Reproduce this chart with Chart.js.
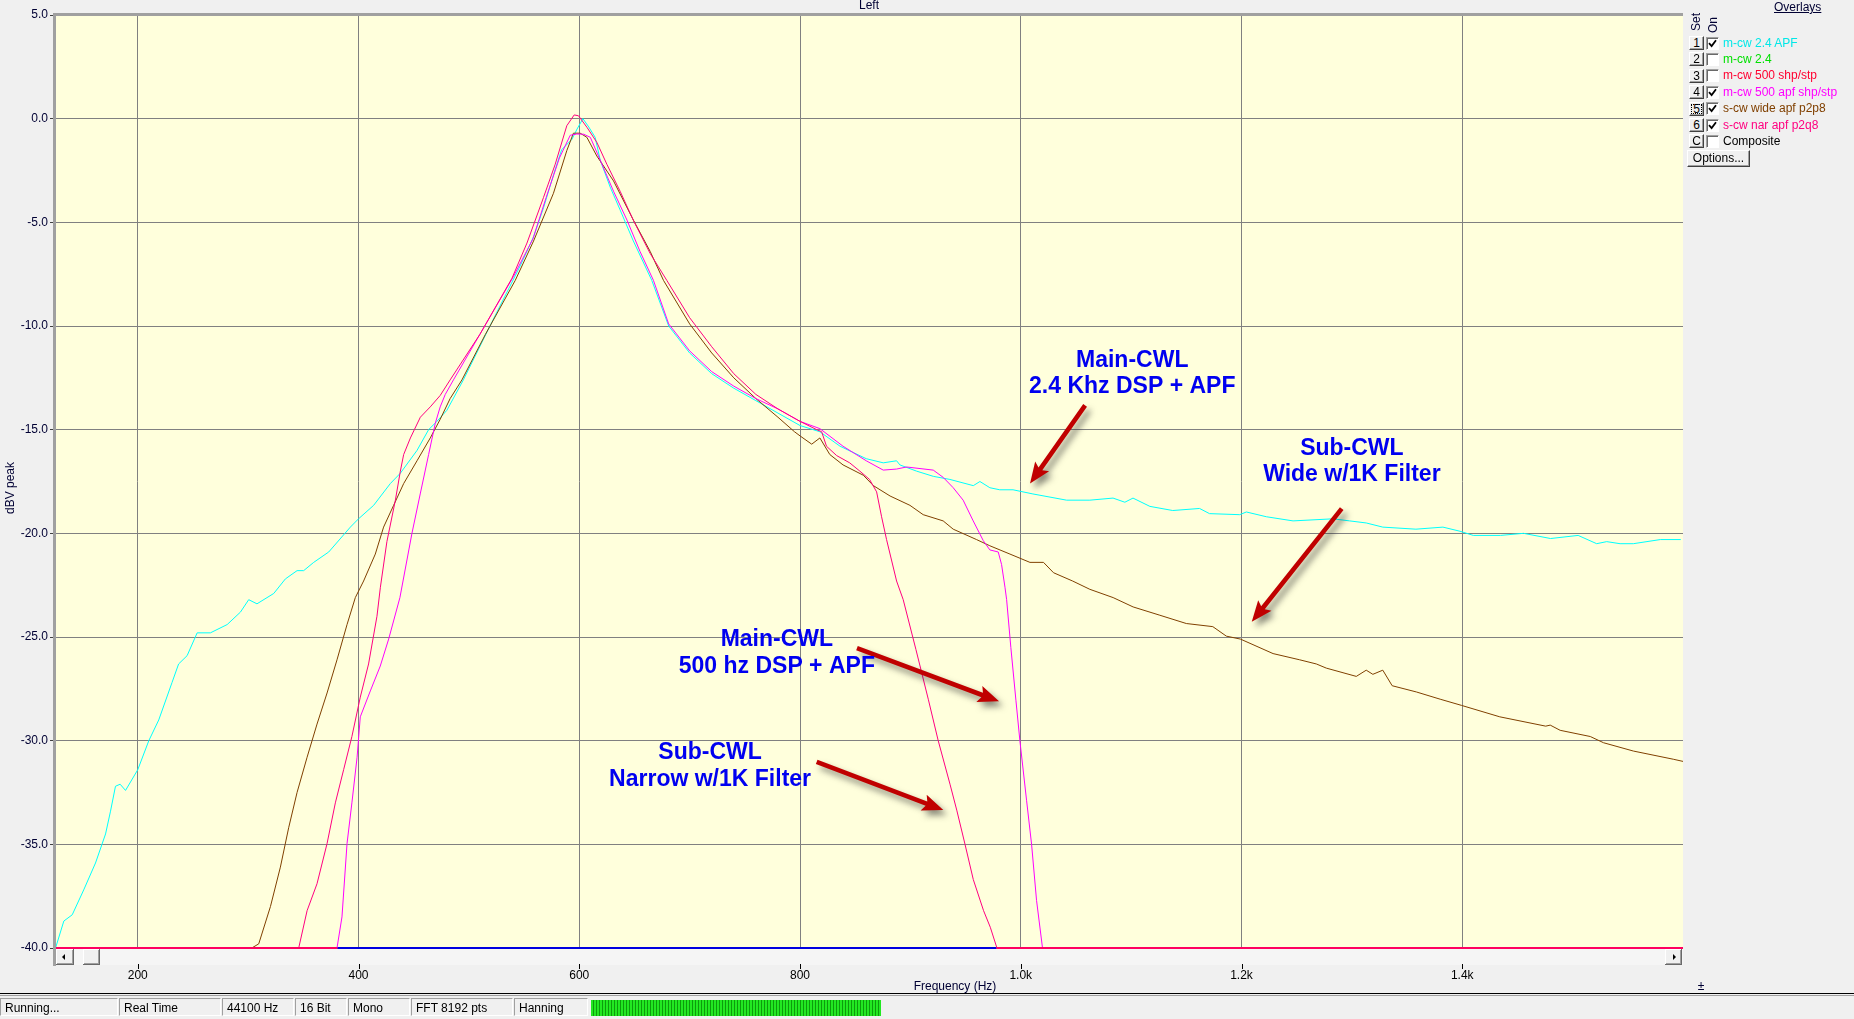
<!DOCTYPE html>
<html><head><meta charset="utf-8">
<script src="https://cdn.jsdelivr.net/npm/chart.js@4.4.1/dist/chart.umd.min.js"></script>
<style>
html,body{margin:0;padding:0;background:#f0f0f0;width:1854px;height:1019px;overflow:hidden;font-family:"Liberation Sans",Arial,sans-serif;}
#c{position:absolute;left:0;top:0;}
.abs{position:absolute;font-size:12px;line-height:14px;white-space:nowrap;}
.btn{position:absolute;width:13px;height:12px;background:#f0f0f0;border:1px solid;border-color:#fff #404040 #404040 #fff;box-shadow:inset -1px -1px 0 #a0a0a0;font-size:12px;line-height:12px;text-align:center;color:#000;}
.chk{position:absolute;width:11px;height:11px;background:#fff;border:1px solid;border-color:#a0a0a0 #fff #fff #a0a0a0;box-shadow:inset 1px 1px 0 #696969;}
.chk svg{position:absolute;left:1px;top:1px;}
.lbl{position:absolute;font-size:12px;line-height:14px;white-space:nowrap;}
.cell{position:absolute;top:998px;height:18px;border:1px solid;border-color:#a0a0a0 #fff #fff #a0a0a0;font-size:12px;line-height:18px;padding-left:4px;box-sizing:border-box;color:#000;}
</style></head><body>
<canvas id="c" width="1854" height="1019"></canvas>

<div class="abs" style="left:1774px;top:0px;text-decoration:underline;color:#000033;">Overlays</div>
<div class="abs" style="left:1689px;top:31px;transform:rotate(-90deg);transform-origin:0 0;color:#000033;">Set</div>
<div class="abs" style="left:1706px;top:33px;transform:rotate(-90deg);transform-origin:0 0;color:#000033;">On</div>
<div id="rows"></div>
<div class="btn" style="left:1687px;top:150px;width:61px;height:15px;line-height:15px;">Options...</div>

<div style="position:absolute;left:0;top:993px;width:1854px;height:1px;background:#000;"></div>
<div style="position:absolute;left:0;top:995px;width:1854px;height:1px;background:#a0a0a0;"></div>
<div class="cell" style="left:0px;width:118px;">Running...</div>
<div class="cell" style="left:119px;width:102px;">Real Time</div>
<div class="cell" style="left:222px;width:72px;">44100 Hz</div>
<div class="cell" style="left:295px;width:52px;">16 Bit</div>
<div class="cell" style="left:348px;width:62px;">Mono</div>
<div class="cell" style="left:411px;width:102px;">FFT 8192 pts</div>
<div class="cell" style="left:514px;width:74px;">Hanning</div>
<div style="position:absolute;left:591px;top:1000px;width:290px;height:16px;background:repeating-linear-gradient(90deg,#22e822 0px,#22e822 2px,#0c9c0c 2px,#0c9c0c 3px);"></div>

<script>
// ---------- DATA ----------
const freqTicks = [200, 400, 600, 800, 1000, 1200, 1400];
const freqTickLabels = ['200', '400', '600', '800', '1.0k', '1.2k', '1.4k'];
const dbTicks = [5, 0, -5, -10, -15, -20, -25, -30, -35, -40];

// Set 1: m-cw 2.4 APF (cyan)
const apf24Freq = [125.5,133,140.6,151,161.7,170.8,175.3,179.8,184,188.9,200,210,219,231,237,244.7,253.8,265.8,281,293,300.5,308,323.2,333.7,344.3,350.3,359.4,373,392.6,400,413.7,428.8,437.9,453,463.5,471,480,495,520,546.5,558.6,567.6,576.7,584,593.3,598,603.3,608.6,614.4,619,628,637,649,665.7,681,700,720,740,760,780,800,818,836.3,860,875.4,887.5,890.5,905.6,920.7,935.8,957,963,972,981,993,1011,1041.5,1062.6,1083.6,1094.3,1101.7,1117,1137.7,1162,1171,1198.4,1204.4,1222.5,1246.7,1282.9,1298,1313,1328,1358,1382.5,1398,1410,1434.6,1455.5,1480,1505,1521.8,1530.9,1543,1555,1579.5,1598];
const apf24Db = [-40,-38.7,-38.4,-37.2,-35.9,-34.5,-33.4,-32.2,-32.1,-32.4,-31.4,-30.0,-29.0,-27.2,-26.3,-25.9,-24.8,-24.8,-24.4,-23.8,-23.2,-23.4,-22.9,-22.2,-21.8,-21.8,-21.4,-20.9,-19.7,-19.3,-18.65,-17.6,-17.1,-16.0,-15.0,-14.6,-14.07,-12.6,-9.9,-7.1,-5.7,-4.3,-2.7,-1.5,-1.0,-0.5,0.0,-0.4,-0.9,-2.0,-3.3,-4.4,-5.9,-7.8,-10.0,-11.3,-12.3,-13.0,-13.6,-14.2,-14.8,-15.1,-15.8,-16.4,-16.6,-16.5,-16.7,-17.0,-17.25,-17.4,-17.7,-17.5,-17.8,-17.9,-17.9,-18.1,-18.4,-18.4,-18.3,-18.5,-18.3,-18.7,-18.9,-18.8,-19.05,-19.1,-18.97,-19.2,-19.4,-19.3,-19.4,-19.5,-19.7,-19.8,-19.7,-19.9,-20.1,-20.1,-20.0,-20.25,-20.1,-20.5,-20.4,-20.5,-20.5,-20.3,-20.3];

// Set 4: m-cw 500 apf shp/stp (magenta)
const apf500Freq = [380.5,385,389.6,394,398.7,401.6,410.7,419.7,427.3,437.5,448.4,455.9,463.5,469.5,474,478.6,486,510,540.5,558,570,582,591.8,597.8,604,610,619,631,643.3,655,667.2,681,700,720,740,760,780,800,818,839,860,875.4,887.5,896.5,920.7,929.7,938.8,947.8,956.9,966,972,979.6,982.6,985.7,987.2,991,995.6,999.2,1005.3,1009.8,1014.3,1019.7];
const apf500Db = [-40,-38.5,-34.96,-33.0,-30.8,-28.85,-27.6,-26.4,-25.1,-23.1,-20.0,-18.1,-16.2,-14.7,-13.9,-13.3,-12.6,-10.4,-7.6,-5.8,-3.8,-1.9,-0.8,-0.74,-0.75,-0.9,-2.0,-3.5,-4.9,-6.4,-7.8,-9.9,-11.2,-12.2,-12.9,-13.5,-14.0,-14.6,-14.95,-15.8,-16.5,-16.95,-16.9,-16.8,-16.95,-17.3,-17.8,-18.4,-19.4,-20.35,-20.8,-20.9,-21.5,-22.6,-23.2,-25.5,-28.05,-30.0,-32.9,-35.0,-37.7,-40];

// Set 5: s-cw wide apf p2p8 (brown)
const wideFreq = [303.3,309.6,320.2,329.2,336.7,344.3,353.4,362.4,371.5,380.5,389.6,397.1,404.6,415.2,422.7,431.8,440.9,453,465,474,483,493.7,515,542,558.6,576.6,588.7,594.7,600.8,606.9,615.9,631,649.1,664.2,676.3,700,720,740,760,780,795,800,810.6,818,827,839,857.4,866.5,881.6,899.6,911.6,929.7,938.8,959.9,972,990.2,1008.3,1020.6,1029.7,1047,1062.6,1083.7,1101.8,1126,1150,1174,1186.3,1199,1228.6,1252.7,1267.8,1276.8,1304,1313,1319,1328,1336.5,1358.4,1380,1399.4,1434,1475.6,1479.7,1488.7,1516,1528,1555,1591.6,1600];
const wideDb = [-40,-39.8,-38.0,-36.1,-34.2,-32.5,-30.8,-29.2,-27.7,-26.1,-24.4,-23.1,-22.3,-21.0,-19.7,-18.65,-17.6,-16.5,-15.4,-14.5,-13.5,-12.6,-10.4,-7.8,-5.9,-3.6,-1.54,-0.7,-0.7,-0.9,-1.8,-3.0,-4.9,-6.4,-7.8,-9.9,-11.3,-12.5,-13.5,-14.4,-15.1,-15.3,-15.7,-15.4,-16.2,-16.7,-17.2,-17.7,-18.2,-18.65,-19.1,-19.4,-19.8,-20.3,-20.6,-21.0,-21.4,-21.4,-21.9,-22.3,-22.7,-23.1,-23.55,-23.95,-24.35,-24.5,-24.96,-25.1,-25.8,-26.1,-26.3,-26.5,-26.9,-26.6,-26.8,-26.6,-27.35,-27.65,-28.0,-28.3,-28.85,-29.3,-29.25,-29.5,-29.8,-30.1,-30.5,-30.9,-31.0];

// Set 6: s-cw nar apf p2q8 (pink-red)
const narFreq = [345.8,353.4,362.4,371.5,379,386.5,394,401.6,409.1,416.7,419.8,425.7,433.4,437.9,440.9,447,456,465,474,483,510,539,552.6,567.6,578.2,588.7,595.4,599.3,607,615.9,625,637,649,664.2,679.3,700,720,740,760,780,800,815.1,819.6,824,833.2,845,854.2,863,869.4,873.9,878.4,887.5,893.5,905,916.2,925.2,935.9,942,949.5,957,966.3,972.4,978.4];
const narDb = [-40,-38.2,-36.9,-34.96,-33.0,-31.4,-29.8,-27.9,-26.3,-24.0,-22.6,-20.4,-18.4,-17.0,-16.2,-15.4,-14.4,-13.9,-13.35,-12.6,-10.4,-7.7,-6.0,-3.8,-2.2,-0.34,0.18,0.14,-0.42,-1.14,-2.2,-3.5,-4.9,-6.5,-7.8,-9.6,-11.0,-12.3,-13.3,-14.0,-14.6,-15.0,-15.1,-15.8,-16.25,-16.6,-17.0,-17.4,-18.0,-19.2,-20.3,-22.3,-23.2,-25.6,-28.0,-30.0,-32.1,-33.35,-35.0,-36.7,-38.2,-39.0,-40];

// Floor trace at the bottom of the range
const floorFreq = [125, 381, 978, 1600];
const floorDb = [-40, -40, -40, -40];

// Overlay list
const overlayNames = ['m-cw 2.4 APF', 'm-cw 2.4', 'm-cw 500 shp/stp', 'm-cw 500 apf shp/stp', 's-cw wide apf p2p8', 's-cw nar apf p2q8', 'Composite'];
const overlayOn = [true, false, false, true, true, true, false];
const overlayColors = ['#00e8e8', '#00e000', '#ff0030', '#ff00ff', '#804000', '#ff0080', '#000000'];
const overlaySet = ['1', '2', '3', '4', '5', '6', 'C'];

// Callouts (anchor of first text line, arrow from -> to), in Hz / dBV
const notes = [
  { lines: ['Main-CWL', '2.4 Khz DSP + APF'], x: 1101, y: -11.66, ax1: 1058.3, ay1: -13.83, ax2: 1008.4, ay2: -17.6 },
  { lines: ['Sub-CWL', 'Wide w/1K Filter'], x: 1300, y: -15.9, ax1: 1290.8, ay1: -18.81, ax2: 1209.3, ay2: -24.27 },
  { lines: ['Main-CWL', '500 hz DSP + APF'], x: 779, y: -25.14, ax1: 851.6, ay1: -25.54, ax2: 980.3, ay2: -28.1 },
  { lines: ['Sub-CWL', 'Narrow w/1K Filter'], x: 718.5, y: -30.6, ax1: 815.1, ay1: -31.02, ax2: 929.8, ay2: -33.35 }
];

// ---------- PANEL ----------
const rows = document.getElementById('rows');
overlayNames.forEach((n, i) => {
  const top = 36 + i * 16.4;
  const b = document.createElement('div');
  b.className = 'btn'; b.style.left = '1689px'; b.style.top = top + 'px'; b.textContent = overlaySet[i];
  if (i === 4) b.style.outline = '1px dotted #000', b.style.outlineOffset = '-3px';
  rows.appendChild(b);
  const c = document.createElement('div');
  c.className = 'chk'; c.style.left = '1706px'; c.style.top = (top + 0.5) + 'px';
  if (overlayOn[i]) c.innerHTML = '<svg width="9" height="9"><path d="M1 4.2 L3.6 7 L8 1.2" stroke="#000" stroke-width="1.8" fill="none"/></svg>';
  rows.appendChild(c);
  const t = document.createElement('div');
  t.className = 'lbl'; t.style.left = '1723px'; t.style.top = (top - 0.5) + 'px'; t.style.color = overlayColors[i]; t.textContent = n;
  rows.appendChild(t);
});

// ---------- CHART ----------
const pts = (f, d) => f.map((v, i) => ({ x: v, y: d[i] }));
const FONT = '"Liberation Sans", Arial, sans-serif';

function raised(ctx, x, y, w, h) {
  ctx.fillStyle = '#f0f0f0'; ctx.fillRect(x, y, w, h);
  ctx.fillStyle = '#ffffff'; ctx.fillRect(x, y, w, 1); ctx.fillRect(x, y, 1, h);
  ctx.fillStyle = '#696969'; ctx.fillRect(x, y + h - 1, w, 1); ctx.fillRect(x + w - 1, y, 1, h);
  ctx.fillStyle = '#a0a0a0'; ctx.fillRect(x + 1, y + h - 2, w - 2, 1); ctx.fillRect(x + w - 2, y + 1, 1, h - 2);
}
function arrow(ctx, x1, y1, x2, y2) {
  const ang = Math.atan2(y2 - y1, x2 - x1);
  const len = Math.hypot(x2 - x1, y2 - y1);
  const hl = 21, hw = 8.5, sw = 2.3;
  ctx.save();
  ctx.translate(x2, y2); ctx.rotate(ang);
  ctx.shadowColor = 'rgba(40,40,40,0.55)'; ctx.shadowBlur = 6; ctx.shadowOffsetX = 4; ctx.shadowOffsetY = 5;
  ctx.beginPath();
  ctx.moveTo(0, 0);
  ctx.lineTo(-hl, -hw);
  ctx.lineTo(-hl + 3, -sw);
  ctx.lineTo(-len, -sw);
  ctx.lineTo(-len, sw);
  ctx.lineTo(-hl + 3, sw);
  ctx.lineTo(-hl, hw);
  ctx.closePath();
  ctx.fillStyle = '#c00000';
  ctx.fill();
  ctx.restore();
}

const decor = {
  id: 'decor',
  beforeDraw(chart) {
    const { ctx, chartArea: a } = chart;
    ctx.save();
    ctx.fillStyle = '#ffffdc';
    ctx.fillRect(a.left, a.top, a.right - a.left, a.bottom - a.top);
    ctx.restore();
  },
  afterDraw(chart) {
    const { ctx, chartArea: a } = chart;
    const xs = chart.scales.x, ys = chart.scales.y;
    ctx.save();
    // scrollbar under the plot
    ctx.fillStyle = '#f5f5f5';
    ctx.fillRect(a.left, a.bottom + 1, a.right - a.left, 16);
    raised(ctx, a.left + 1, a.bottom + 1, 18, 16);
    raised(ctx, a.left + 28, a.bottom + 1, 17, 16);
    raised(ctx, a.right - 18, a.bottom + 1, 17, 16);
    ctx.fillStyle = '#000';
    ctx.beginPath(); ctx.moveTo(a.left + 7, a.bottom + 9); ctx.lineTo(a.left + 10, a.bottom + 6); ctx.lineTo(a.left + 10, a.bottom + 12); ctx.fill();
    ctx.beginPath(); ctx.moveTo(a.right - 7, a.bottom + 9); ctx.lineTo(a.right - 10, a.bottom + 6); ctx.lineTo(a.right - 10, a.bottom + 12); ctx.fill();
    // tick marks below the scrollbar
    ctx.fillStyle = '#000';
    freqTicks.forEach(v => { const px = Math.round(xs.getPixelForValue(v)); ctx.fillRect(px, a.bottom + 16, 1, 5); });
    // plot frame
    ctx.fillStyle = '#a0a0a0';
    ctx.fillRect(a.left - 2, a.top - 2, 3, a.bottom - a.top + 20);
    ctx.fillRect(a.left - 2, a.top - 2, a.right - a.left + 2, 3);
    // texts
    ctx.fillStyle = '#000033';
    ctx.font = '12px ' + FONT;
    ctx.textAlign = 'center'; ctx.textBaseline = 'middle';
    ctx.fillText('Left', (a.left + a.right) / 2, 6);
    ctx.fillText('Frequency (Hz)', 955, 987);
    ctx.fillText('±', 1701, 987);
    ctx.save(); ctx.translate(11, 488); ctx.rotate(-Math.PI / 2); ctx.fillText('dBV peak', 0, 0); ctx.restore();
    // callouts
    notes.forEach(n => {
      arrow(ctx, xs.getPixelForValue(n.ax1), ys.getPixelForValue(n.ay1), xs.getPixelForValue(n.ax2), ys.getPixelForValue(n.ay2));
      const cx = xs.getPixelForValue(n.x), cy = ys.getPixelForValue(n.y);
      ctx.font = 'bold 23px ' + FONT;
      ctx.fillStyle = '#0000f0';
      ctx.textAlign = 'center'; ctx.textBaseline = 'middle';
      n.lines.forEach((l, i) => ctx.fillText(l, cx, cy + i * 26.5));
    });
    ctx.restore();
  }
};

const lineDs = (label, f, d, color) => ({ label, data: pts(f, d), borderColor: color, borderWidth: 1, pointRadius: 0, tension: 0, fill: false });

new Chart(document.getElementById('c'), {
  type: 'line',
  data: {
    datasets: [
      Object.assign(lineDs('floor', floorFreq, floorDb, '#ff0080'), {
        borderWidth: 2, clip: false,
        segment: { borderColor: c => (c.p0DataIndex === 1 ? '#0000e0' : '#ff0060') }
      }),
      lineDs(overlayNames[5], narFreq, narDb, '#ff0080'),
      lineDs(overlayNames[3], apf500Freq, apf500Db, '#ff00ff'),
      lineDs(overlayNames[4], wideFreq, wideDb, '#804000'),
      lineDs(overlayNames[0], apf24Freq, apf24Db, '#00ffff')
    ]
  },
  options: {
    responsive: false,
    devicePixelRatio: 1,
    animation: false,
    events: [],
    layout: { padding: { left: 0, right: 171, top: 15, bottom: 0 } },
    plugins: { legend: { display: false }, tooltip: { enabled: false }, title: { display: false } },
    scales: {
      x: {
        type: 'linear', min: 125, max: 1600,
        afterBuildTicks: s => { s.ticks = freqTicks.map(v => ({ value: v })); },
        afterFit: s => { s.height = 71; },
        ticks: { callback: (v, i) => freqTickLabels[i], color: '#000', font: { family: FONT, size: 12 }, padding: 20, maxRotation: 0, autoSkip: false },
        grid: { color: '#808080', lineWidth: 1, drawTicks: false },
        border: { display: false }
      },
      y: {
        min: -40, max: 5,
        afterBuildTicks: s => { s.ticks = dbTicks.map(v => ({ value: v })); },
        afterFit: s => { s.width = 55; },
        ticks: { callback: v => v.toFixed(1), color: '#000033', font: { family: FONT, size: 12 }, padding: 2 },
        grid: { color: '#808080', lineWidth: 1, tickLength: 5, tickColor: '#404040' },
        border: { display: false }
      }
    }
  },
  plugins: [decor]
});
</script>
</body></html>
